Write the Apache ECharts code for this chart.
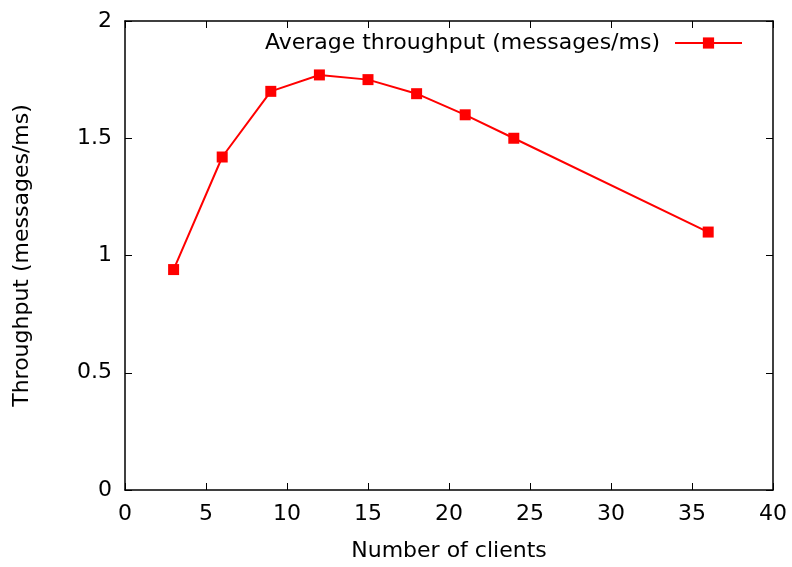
<!DOCTYPE html>
<html><head><meta charset="utf-8">
<script src="https://cdn.jsdelivr.net/npm/echarts@6/dist/echarts.min.js"></script>
<style>html,body{margin:0;padding:0;background:#fff}#c{width:792px;height:567px}</style>
</head><body><div id="c"></div>
<script>
const clients = [3, 6, 9, 12, 15, 18, 21, 24, 36];
const throughput = [0.94, 1.42, 1.70, 1.77, 1.75, 1.69, 1.60, 1.50, 1.10];
const seriesName = 'Average throughput (messages/ms)';
const xTitle = 'Number of clients';
const yTitle = 'Throughput (messages/ms)';

const FONT = 'DejaVu Sans';
const FS = 22;
const chart = echarts.init(document.getElementById('c'), null, {renderer: 'canvas'});
const axisLine = {show: true, onZero: false, lineStyle: {color: '#000', width: 1.5}};
const tick = {show: true, inside: true, length: 7, lineStyle: {color: '#000', width: 1}};
chart.setOption({
  animation: false,
  backgroundColor: '#fff',
  grid: {left: 125, right: 19, top: 21, bottom: 77, containLabel: false},
  legend: {
    data: [seriesName], right: 49, top: 32, align: 'right', padding: 0,
    itemWidth: 67, itemHeight: 14, itemGap: 10,
    textStyle: {fontFamily: FONT, fontSize: FS, color: '#000', padding: [0, 10, 0, 0]}
  },
  xAxis: [
    {type: 'value', min: 0, max: 40, interval: 5, position: 'bottom',
     axisLine, axisTick: tick, splitLine: {show: false},
     axisLabel: {fontFamily: FONT, fontSize: FS, color: '#000', margin: 13},
     name: xTitle, nameLocation: 'middle', nameGap: 50,
     nameTextStyle: {fontFamily: FONT, fontSize: FS, color: '#000'}},
    {type: 'value', min: 0, max: 40, interval: 5, position: 'top',
     axisLine, axisTick: tick, splitLine: {show: false}, axisLabel: {show: false}}
  ],
  yAxis: [
    {type: 'value', min: 0, max: 2, interval: 0.5, position: 'left',
     axisLine, axisTick: tick, splitLine: {show: false},
     axisLabel: {fontFamily: FONT, fontSize: FS, color: '#000', margin: 13},
     name: yTitle, nameLocation: 'middle', nameGap: 92, nameRotate: 90,
     nameTextStyle: {fontFamily: FONT, fontSize: FS, color: '#000'}},
    {type: 'value', min: 0, max: 2, interval: 0.5, position: 'right',
     axisLine, axisTick: tick, splitLine: {show: false}, axisLabel: {show: false}}
  ],
  series: [{
    name: seriesName, type: 'line',
    data: clients.map((c, i) => [c, throughput[i]]),
    symbol: 'rect', symbolSize: 11,
    itemStyle: {color: '#ff0000'},
    lineStyle: {color: '#ff0000', width: 2}
  }]
});
</script></body></html>
